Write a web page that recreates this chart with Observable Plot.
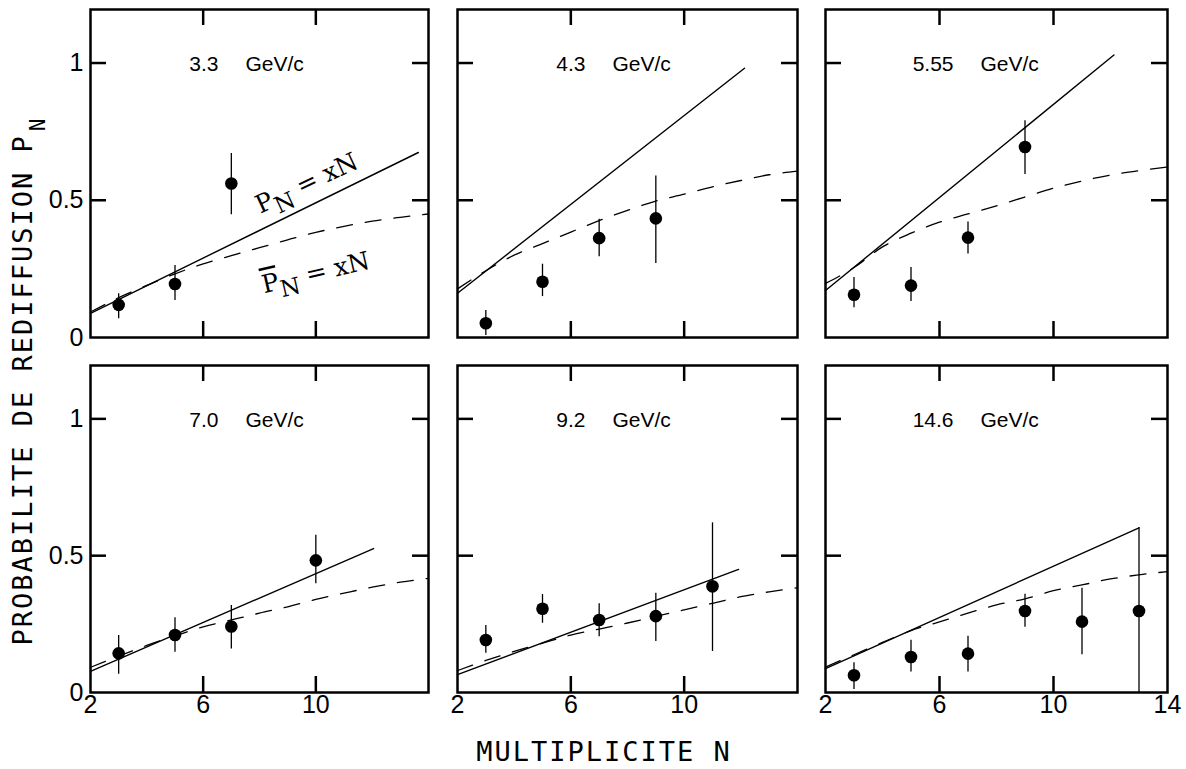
<!DOCTYPE html>
<html>
<head>
<meta charset="utf-8">
<script src="https://cdn.jsdelivr.net/npm/d3@7"></script>
<script src="https://cdn.jsdelivr.net/npm/@observablehq/plot@0.6"></script>
<style>
  html, body { margin: 0; padding: 0; background: #fff; }
  #chart { position: relative; width: 1186px; height: 769px; overflow: hidden; background: #fff; }
  .panel { position: absolute; }
  .axlabel { position: absolute; font-family: "DejaVu Sans Mono", monospace; font-size: 27px;
             letter-spacing: 2px; color: #000; white-space: nowrap; line-height: 1; }
</style>
</head>
<body>
<div id="chart"></div>
<script>
// ---------- data ----------
const momenta = ["3.3", "4.3", "5.55", "7.0", "9.2", "14.6"];
const unit = "GeV/c";

// measured points (multiplicity N, probability P_N, error bar low / high)
const pointN = [
  [3, 5, 7],
  [3, 5, 7, 9],
  [3, 5, 7, 9],
  [3, 5, 7, 10],
  [3, 5, 7, 9, 11],
  [3, 5, 7, 9, 11, 13]
];
const pointP = [
  [0.119, 0.195, 0.561],
  [0.052, 0.203, 0.362, 0.434],
  [0.156, 0.189, 0.364, 0.694],
  [0.143, 0.210, 0.241, 0.483],
  [0.192, 0.306, 0.265, 0.279, 0.388],
  [0.063, 0.130, 0.142, 0.298, 0.259, 0.298]
];
const errLow = [
  [0.068, 0.135, 0.447],
  [0.007, 0.149, 0.294, 0.270],
  [0.108, 0.131, 0.304, 0.594],
  [0.067, 0.147, 0.159, 0.397],
  [0.143, 0.253, 0.204, 0.186, 0.150],
  [0.011, 0.075, 0.075, 0.238, 0.138, 0.000]
];
const errHigh = [
  [0.159, 0.262, 0.670],
  [0.098, 0.267, 0.431, 0.588],
  [0.219, 0.255, 0.421, 0.790],
  [0.208, 0.273, 0.318, 0.575],
  [0.245, 0.358, 0.324, 0.363, 0.620],
  [0.109, 0.191, 0.206, 0.359, 0.381, 0.602]
];

// solid line P_N = xN (end points)
const solidN = [[2, 13.64], [2, 12.13], [2, 12.12], [2, 12.05], [2, 11.92], [2, 13.0]];
const solidP = [[0.088, 0.674], [0.161, 0.981], [0.171, 1.029], [0.077, 0.526], [0.065, 0.450], [0.087, 0.602]];

// dashed curve P̄_N = xN
const curveN = [2, 3, 4, 5, 6, 7, 8, 9, 10, 11, 12, 13, 14];
const dashedP = [
  [0.093, 0.145, 0.190, 0.232, 0.268, 0.298, 0.327, 0.356, 0.383, 0.405, 0.424, 0.438, 0.450],
  [0.177, 0.243, 0.300, 0.342, 0.384, 0.426, 0.463, 0.497, 0.522, 0.549, 0.572, 0.593, 0.606],
  [0.197, 0.255, 0.330, 0.380, 0.420, 0.450, 0.480, 0.512, 0.544, 0.570, 0.592, 0.608, 0.621],
  [0.092, 0.133, 0.172, 0.207, 0.240, 0.265, 0.290, 0.313, 0.340, 0.363, 0.385, 0.403, 0.417],
  [0.080, 0.117, 0.150, 0.180, 0.210, 0.232, 0.254, 0.278, 0.302, 0.326, 0.350, 0.368, 0.383],
  [0.093, 0.138, 0.183, 0.226, 0.258, 0.290, 0.320, 0.342, 0.372, 0.393, 0.415, 0.430, 0.442]
];

const xDomain = [2, 14];
const yDomain = [0, 1.195];
const yTickValues = [0.5, 1];
const xTickValues = [6, 10];
const yLabelValues = [0, 0.5, 1];
const xLabelValues = [2, 6, 10];
const xLabelValuesLast = [2, 6, 10, 14];
const annotationSolid = "PN = xN";
const annotationDashed = "P\u0305N = xN";
const xTitle = "MULTIPLICITE N";
const yTitle = "PROBABILITE DE REDIFFUSION P";
const yTitleSub = "N";

// ---------- layout ----------
const colLeft = [90, 457, 825];
const colWidth = [338, 340, 342];
const rowTop = [9, 365];
const rowHeight = [328, 327];
const mL = 70, mR = 30, mT = 12, mB = 45;
const TICK = 16;

const chart = document.getElementById("chart");

function subscriptify(node, bar) {
  const sel = d3.select(node);
  sel.text(null);
  sel.attr("text-anchor", "middle");
  const p = sel.append("tspan").text("P");
  if (bar) p.style("text-decoration", "overline");
  sel.append("tspan").attr("dy", 8).attr("font-size", 23).text("N");
  sel.append("tspan").attr("dy", -8).text(" = xN");
}

for (let i = 0; i < 6; i++) {
  const row = Math.floor(i / 3), col = i % 3;
  const W = colWidth[col], H = rowHeight[row];
  const pts = pointN[i].map((n, j) => ({n, p: pointP[i][j], lo: errLow[i][j], hi: errHigh[i][j]}));
  const solid = solidN[i].map((n, j) => ({n, p: solidP[i][j]}));
  const dashed = curveN.map((n, j) => ({n, p: dashedP[i][j]}));

  const marks = [
    Plot.line(dashed, {x: "n", y: "p", curve: "monotone-x", stroke: "#000", strokeWidth: 1.3, strokeDasharray: "16,13"}),
    Plot.line(solid, {x: "n", y: "p", stroke: "#000", strokeWidth: 1.4}),
    Plot.ruleX(pts, {x: "n", y1: "lo", y2: "hi", stroke: "#000", strokeWidth: 1.3}),
    Plot.dot(pts, {x: "n", y: "p", r: 6.3, fill: "#000", stroke: null}),
    Plot.frame({stroke: "#000", strokeWidth: 2.5}),
    Plot.tickY(yTickValues, {y: d => d, insetRight: W - TICK, stroke: "#000", strokeWidth: 2.5}),
    Plot.tickY(yTickValues, {y: d => d, insetLeft: W - TICK, stroke: "#000", strokeWidth: 2.5}),
    Plot.tickX(xTickValues, {x: d => d, insetBottom: H - TICK, stroke: "#000", strokeWidth: 2.5}),
    Plot.tickX(xTickValues, {x: d => d, insetTop: H - TICK, stroke: "#000", strokeWidth: 2.5}),
    Plot.text([momenta[i]], {text: d => d, frameAnchor: "top-left", dx: 128, dy: 47, textAnchor: "end", fontSize: 21}),
    Plot.text([unit], {text: d => d, frameAnchor: "top-left", dx: 155, dy: 47, textAnchor: "start", fontSize: 21})
  ];
  if (col === 0) {
    marks.push(Plot.text(yLabelValues, {y: d => d, text: d => String(d), frameAnchor: "left", dx: -7, textAnchor: "end", fontSize: 25}));
  }
  if (row === 1) {
    const xl = col === 2 ? xLabelValuesLast : xLabelValues;
    marks.push(Plot.text(xl, {x: d => d, text: d => String(d), frameAnchor: "bottom", textAnchor: "middle", dy: 20, fontSize: 25}));
  }
  if (i === 0) {
    marks.push(Plot.text([annotationSolid], {text: d => d, frameAnchor: "top-left", textAnchor: "middle", dx: 212, dy: 165, rotate: -25, fontFamily: "DejaVu Serif", fontSize: 25}));
    marks.push(Plot.text([annotationDashed], {text: d => d, frameAnchor: "top-left", textAnchor: "middle", dx: 223, dy: 254, rotate: -13, fontFamily: "DejaVu Serif", fontSize: 25}));
  }

  const svg = Plot.plot({
    width: W + mL + mR,
    height: H + mT + mB,
    marginLeft: mL, marginRight: mR, marginTop: mT, marginBottom: mB,
    x: {domain: xDomain, axis: null},
    y: {domain: yDomain, axis: null},
    style: {background: "transparent", fontFamily: "Liberation Sans, Arial, sans-serif", color: "#000", overflow: "visible"},
    marks
  });

  if (i === 0) {
    d3.select(svg).selectAll("text").each(function () {
      if (this.textContent === annotationSolid) subscriptify(this, false);
      else if (this.textContent === annotationDashed) subscriptify(this, true);
    });
  }

  const div = document.createElement("div");
  div.className = "panel";
  div.style.left = (colLeft[col] - mL) + "px";
  div.style.top = (rowTop[row] - mT) + "px";
  div.style.width = (W + mL + mR) + "px";
  div.appendChild(svg);
  chart.appendChild(div);
}

// axis titles
const xt = document.createElement("div");
xt.className = "axlabel";
xt.textContent = xTitle;
xt.style.left = "604px";
xt.style.top = "751px";
xt.style.transform = "translate(-50%, -50%)";
chart.appendChild(xt);

const yt = document.createElement("div");
yt.className = "axlabel";
yt.style.left = "22px";
yt.style.top = "381px";
yt.style.transform = "translate(-50%, -50%) rotate(-90deg)";
yt.textContent = yTitle;
const sub = document.createElement("span");
sub.textContent = yTitleSub;
sub.style.position = "relative";
sub.style.top = "0.6em";
sub.style.fontSize = "0.78em";
sub.style.marginLeft = "3px";
yt.appendChild(sub);
chart.appendChild(yt);
</script>
</body>
</html>
